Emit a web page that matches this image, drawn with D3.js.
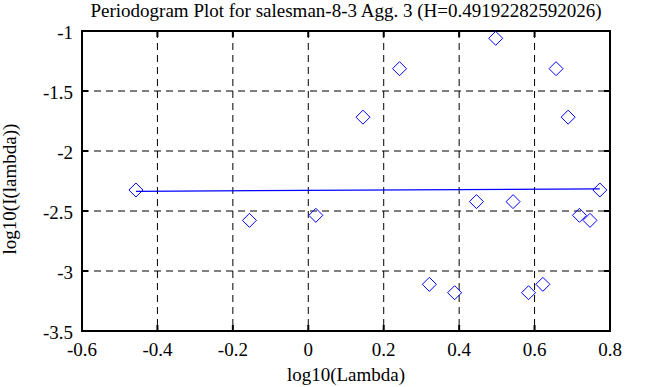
<!DOCTYPE html>
<html>
<head>
<meta charset="utf-8">
<script src="https://cdn.jsdelivr.net/npm/d3@7"></script>
<style>
  body { margin: 0; background: #fff; }
  text { font-family: "Liberation Serif", "DejaVu Serif", serif; fill: #000; }
</style>
</head>
<body>
<div id="chart"></div>
<script>
// log10 of Fourier frequencies and periodogram values
const logLambda = [-0.457, -0.156, 0.020, 0.145, 0.242, 0.321, 0.388, 0.446, 0.497,
                   0.543, 0.584, 0.622, 0.657, 0.689, 0.719, 0.747, 0.773];
const logI = [-2.325, -2.578, -2.536, -1.718, -1.314, -3.111, -3.181, -2.422, -1.061,
              -2.422, -3.181, -3.111, -1.314, -1.718, -2.536, -2.578, -2.325];
// least squares fit, end points
const fitX = [-0.457, 0.773];
const fitY = [-2.336, -2.316];
const xTicks = [-0.6, -0.4, -0.2, 0, 0.2, 0.4, 0.6, 0.8];
const yTicks = [-1, -1.5, -2, -2.5, -3, -3.5];

const width = 658, height = 387,
  margin = {top: 31, right: 48, bottom: 56, left: 82};

const svg = d3.select("#chart").append("svg")
  .attr("width", width).attr("height", height);

const x = d3.scaleLinear().domain([-0.6, 0.8]).range([margin.left, width - margin.right]);
const y = d3.scaleLinear().domain([-3.5, -1]).range([height - margin.bottom, margin.top]);

const x0 = x.range()[0], x1 = x.range()[1], y0 = y.range()[0], y1 = y.range()[1];

// grid
svg.append("g").selectAll("line").data(xTicks.slice(1, -1)).join("line")
  .attr("x1", d => x(d)).attr("x2", d => x(d)).attr("y1", y1).attr("y2", y0)
  .attr("stroke", "#000").attr("stroke-width", 1).attr("stroke-dasharray", "7,5");
svg.append("g").selectAll("line").data(yTicks.slice(1, -1)).join("line")
  .attr("y1", d => y(d)).attr("y2", d => y(d)).attr("x1", x0).attr("x2", x1)
  .attr("stroke", "#000").attr("stroke-width", 1).attr("stroke-dasharray", "7,5");

// inward ticks on all sides
const tl = 6;
const ticks = svg.append("g").attr("stroke", "#000").attr("stroke-width", 2);
xTicks.forEach(d => {
  ticks.append("line").attr("x1", x(d)).attr("x2", x(d)).attr("y1", y0).attr("y2", y0 - tl);
  ticks.append("line").attr("x1", x(d)).attr("x2", x(d)).attr("y1", y1).attr("y2", y1 + tl);
});
yTicks.forEach(d => {
  ticks.append("line").attr("y1", y(d)).attr("y2", y(d)).attr("x1", x0).attr("x2", x0 + tl);
  ticks.append("line").attr("y1", y(d)).attr("y2", y(d)).attr("x1", x1).attr("x2", x1 - tl);
});

// frame
svg.append("rect")
  .attr("x", x0).attr("y", y1).attr("width", x1 - x0).attr("height", y0 - y1)
  .attr("fill", "none").attr("stroke", "#000").attr("stroke-width", 2);

// tick labels (plain hyphen minus, like the original)
svg.append("g").selectAll("text").data(xTicks).join("text")
  .attr("x", d => x(d)).attr("y", y0 + 25)
  .attr("text-anchor", "middle").style("font-size", "19px")
  .text(d => String(d));
svg.append("g").selectAll("text").data(yTicks).join("text")
  .attr("x", x0 - 9).attr("y", d => y(d) + 8)
  .attr("text-anchor", "end").style("font-size", "19px")
  .text(d => String(d));

// fit line
svg.append("line")
  .attr("x1", x(fitX[0])).attr("y1", y(fitY[0]))
  .attr("x2", x(fitX[1])).attr("y2", y(fitY[1]))
  .attr("stroke", "#0000ff").attr("stroke-width", 1.3);

// diamonds
const r = 7;
svg.append("g").selectAll("path").data(logLambda).join("path")
  .attr("d", (d, i) => {
    const cx = x(d), cy = y(logI[i]);
    return `M${cx},${cy - r}L${cx + r},${cy}L${cx},${cy + r}L${cx - r},${cy}Z`;
  })
  .attr("fill", "none").attr("stroke", "#0000ff").attr("stroke-width", 1);

// titles
svg.append("text")
  .attr("x", (x0 + x1) / 2).attr("y", 17)
  .attr("text-anchor", "middle").style("font-size", "19px")
  .text("Periodogram Plot for salesman-8-3 Agg. 3 (H=0.49192282592026)");
svg.append("text")
  .attr("x", (x0 + x1) / 2).attr("y", 381)
  .attr("text-anchor", "middle").style("font-size", "19px")
  .text("log10(Lambda)");
svg.append("text")
  .attr("transform", `translate(16,${(y0 + y1) / 2 + 8}) rotate(-90)`)
  .attr("text-anchor", "middle").style("font-size", "19px")
  .text("log10(I(lambda))");
</script>
</body>
</html>
